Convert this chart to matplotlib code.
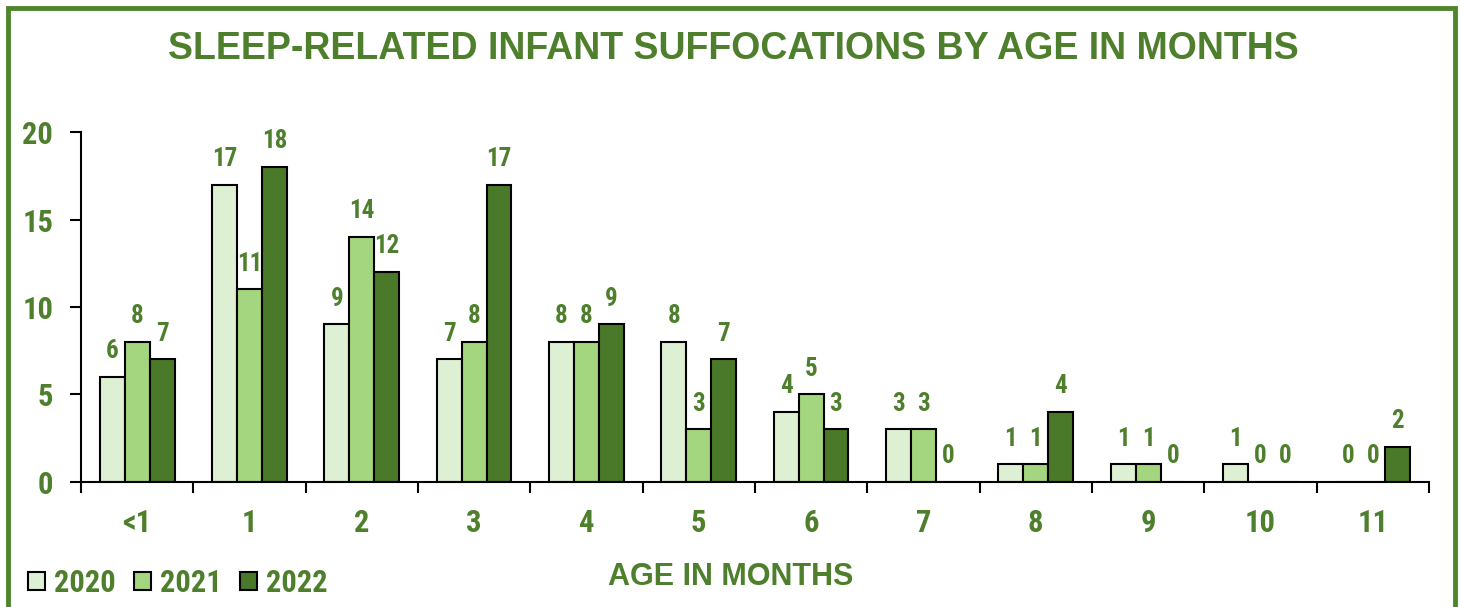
import numpy as np
import matplotlib.pyplot as plt
from matplotlib.patches import Rectangle

# Sleep-related infant suffocations by age in months
ages = ['<1', '1', '2', '3', '4', '5', '6', '7', '8', '9', '10', '11']
years = ['2020', '2021', '2022']
deaths_2020 = [6, 17, 9, 7, 8, 8, 4, 3, 1, 1, 1, 0]
deaths_2021 = [8, 11, 14, 8, 8, 3, 5, 3, 1, 1, 0, 0]
deaths_2022 = [7, 18, 12, 17, 9, 7, 3, 0, 4, 0, 0, 2]
yticks = [0, 5, 10, 15, 20]

green_txt = '#4E7F2C'
bar_colors = ['#DEF0D4', '#A3D67F', '#4A7A29']
narrow = ['Roboto Condensed', 'PT Sans Narrow', 'Liberation Sans', 'DejaVu Sans']
wide = ['Liberation Sans', 'DejaVu Sans']

fig = plt.figure(figsize=(14.61, 6.07), dpi=100)
ax = fig.add_axes([0.0554, 0.206, 0.9226, 0.5765])

x = np.arange(len(ages))
w = 0.222
series = [deaths_2020, deaths_2021, deaths_2022]
for i, (vals, col, yr) in enumerate(zip(series, bar_colors, years)):
    pos = x + (i - 1) * w
    ax.bar(pos, vals, width=w, color=col, edgecolor='black', linewidth=1.5, label=yr, zorder=2)
    for px, v in zip(pos, vals):
        ax.annotate(str(v), (px, v), xytext=(0, 10), textcoords='offset points',
                    ha='center', va='bottom', color=green_txt, fontsize=18,
                    fontweight='bold', family=narrow)

ax.set_xlim(-0.5, len(ages) - 0.5)
ax.set_ylim(0, 20)
ax.set_yticks(yticks)
ax.set_yticklabels([str(t) for t in yticks], color=green_txt, fontsize=22,
                   fontweight='bold', family=narrow)

# ticks between groups, labels centred under groups
ax.set_xticks(np.arange(len(ages) + 1) - 0.5)
ax.set_xticklabels([])
ax.set_xticks(x, minor=True)
ax.set_xticklabels(ages, minor=True, color=green_txt, fontsize=22,
                   fontweight='bold', family=narrow)
ax.tick_params(axis='x', which='minor', length=0, pad=19)
ax.tick_params(axis='x', which='major', length=8, width=1.5, direction='out')
ax.tick_params(axis='y', length=8, width=1.5, direction='out', pad=12)

for s in ['top', 'right']:
    ax.spines[s].set_visible(False)
for s in ['left', 'bottom']:
    ax.spines[s].set_linewidth(1.5)

fig.text(0.502, 0.92, 'SLEEP-RELATED INFANT SUFFOCATIONS BY AGE IN MONTHS',
         ha='center', va='center', color=green_txt, fontsize=27,
         fontweight='bold', family=wide)
fig.text(0.5, 0.05, 'AGE IN MONTHS', ha='center', va='center', color=green_txt,
         fontsize=22, fontweight='bold', family=wide)

leg = fig.legend(loc='center left', bbox_to_anchor=(0.019, 0.04), ncol=3, frameon=False,
                 borderpad=0, borderaxespad=0,
                 handlelength=0.55, handleheight=0.55, handletextpad=0.3, columnspacing=0.6,
                 prop={'family': narrow, 'weight': 'bold', 'size': 22})
for t in leg.get_texts():
    t.set_color(green_txt)

# green frame around the chart (bottom edge runs off the picture)
fig.patches.append(Rectangle((0.0055, -0.05), 0.9905, 1.036, transform=fig.transFigure,
                             fill=False, edgecolor='#4E862C', linewidth=3.5, zorder=0))

fig.savefig('out.png', dpi=100)
